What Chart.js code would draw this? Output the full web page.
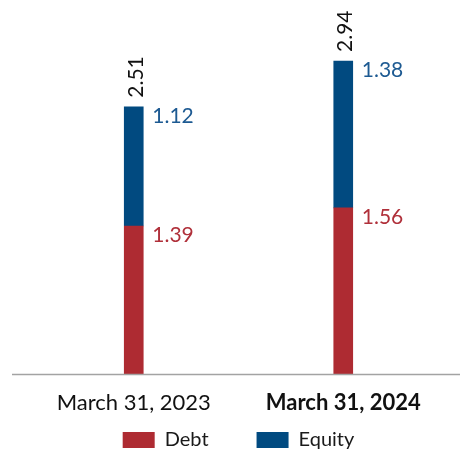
<!DOCTYPE html>
<html>
<head>
<meta charset="utf-8">
<script src="https://cdn.jsdelivr.net/npm/chart.js@4/dist/chart.umd.min.js"></script>
<style>
  html, body { margin: 0; padding: 0; background: #ffffff; }
  #wrap { width: 460px; height: 454px; }
</style>
</head>
<body>
<div id="wrap"><canvas id="c" width="460" height="454"></canvas></div>
<script>
const categories = ['March 31, 2023', 'March 31, 2024'];
const debtValues = [1.39, 1.56];
const equityValues = [1.12, 1.38];
const totalValues = [2.51, 2.94];
const seriesNames = ['Debt', 'Equity'];

const RED = '#ae2b32';
const BLUE = '#014a80';
const RED_TXT = '#b0303a';
const BLUE_TXT = '#1d5a92';
const FONT = 'Lato, "Open Sans", sans-serif';

const labelPlugin = {
  id: 'valueLabels',
  afterDatasetsDraw(chart) {
    const ctx = chart.ctx;
    ctx.save();
    ctx.font = '21px ' + FONT;
    ctx.textBaseline = 'middle';
    ctx.textAlign = 'left';
    chart.data.datasets.forEach((ds, di) => {
      const meta = chart.getDatasetMeta(di);
      meta.data.forEach((bar, i) => {
        const top = Math.min(bar.y, bar.base);
        const right = bar.x + bar.width / 2;
        ctx.fillStyle = di === 0 ? RED_TXT : BLUE_TXT;
        ctx.fillText(ds.data[i].toFixed(2), right + 9, top + 9);
      });
    });
    // totals, rotated
    const yScale = chart.scales.y;
    const lastMeta = chart.getDatasetMeta(chart.data.datasets.length - 1);
    ctx.fillStyle = '#111111';
    ctx.font = '21px ' + FONT;
    lastMeta.data.forEach((bar, i) => {
      const y = yScale.getPixelForValue(totalValues[i]);
      ctx.save();
      ctx.translate(bar.x + 2, y - 9);
      ctx.rotate(-Math.PI / 2);
      ctx.textAlign = 'left';
      ctx.textBaseline = 'middle';
      ctx.fillText(totalValues[i].toFixed(2), 0, 0);
      ctx.restore();
    });
    ctx.restore();
  }
};

const baselinePlugin = {
  id: 'baseline',
  afterDatasetsDraw(chart) {
    const ctx = chart.ctx;
    const y = chart.scales.y.getPixelForValue(0);
    ctx.save();
    ctx.strokeStyle = '#a3a3a3';
    ctx.lineWidth = 1.5;
    ctx.beginPath();
    ctx.moveTo(12, y + 0.5);
    ctx.lineTo(460, y + 0.5);
    ctx.stroke();
    ctx.restore();
  }
};

new Chart(document.getElementById('c'), {
  type: 'bar',
  data: {
    labels: categories,
    datasets: [
      { label: seriesNames[0], data: debtValues, backgroundColor: RED, barThickness: 19 },
      { label: seriesNames[1], data: equityValues, backgroundColor: BLUE, barThickness: 19 }
    ]
  },
  options: {
    responsive: false,
    animation: false,
    layout: { padding: { left: 29, right: 12, top: 12, bottom: -6 } },
    plugins: {
      legend: {
        position: 'bottom',
        labels: {
          boxWidth: 32,
          boxHeight: 16,
          padding: 48,
          color: '#1a1a1a',
          font: { family: FONT, size: 20 }
        }
      },
      tooltip: { enabled: false }
    },
    scales: {
      x: {
        stacked: true,
        grid: { display: false, drawTicks: false },
        border: { display: false },
        ticks: {
          color: '#111111',
          mirror: true,
          padding: -42,
          font: (ctx) => ({ family: FONT, size: 22, weight: ctx.index === 1 ? 'bold' : 'normal' })
        },
        afterFit(scale) { scale.height = 8; }
      },
      y: {
        stacked: true,
        display: false,
        min: 0,
        max: 3.4
      }
    }
  },
  plugins: [labelPlugin, baselinePlugin]
});
</script>
</body>
</html>
